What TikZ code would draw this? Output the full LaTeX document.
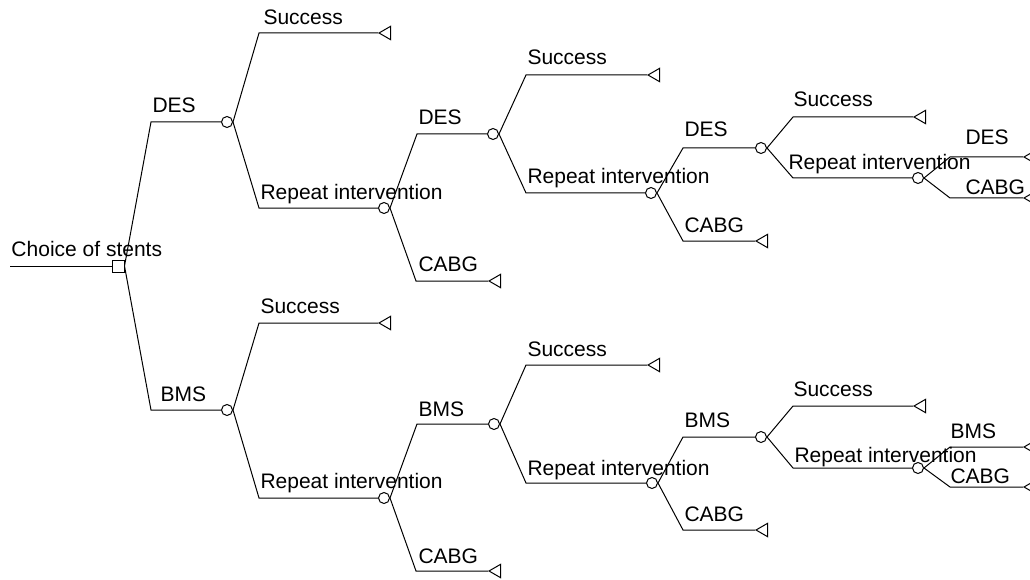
\documentclass[tikz,border=0pt]{standalone}
\usepackage{fontspec}
\setmainfont{Liberation Sans}
\usepackage{tikz}
\usetikzlibrary{shapes.geometric}
\tikzset{
  chance/.style={circle,draw,fill=white,minimum size=11pt,inner sep=0pt},
  choice/.style={rectangle,draw,fill=white,minimum size=12pt,inner sep=0pt},
  payoff/.style={regular polygon,regular polygon sides=3,shape border rotate=90,draw,minimum size=15.5pt,inner sep=0pt,anchor=corner 1},
  lbl/.style={anchor=base west,inner sep=0pt,font=\fontsize{21}{25}\selectfont}
}

\begin{document}
\begin{tikzpicture}[x=1pt,y=-1pt,line width=1pt]
\useasboundingbox (0,0) rectangle (1030,580);
\clip (0,0) rectangle (1030,580);

\coordinate (root) at (10,266);
\node[choice] (stents) at (118,266) {};
\draw (root) -- (stents.west);
\node[lbl] (lstents) at (11,256) {Choice of stents};

\coordinate (b1) at (151,122);
\node[chance] (c1) at (227,122) {};
\draw (stents.east) -- (b1) -- (c1.west);
\node[lbl] (l1) at (152,113) {DES};

\coordinate (b1s) at (259,33);
\node[payoff] (t1s) at (378,33) {};
\draw (c1.east) -- (b1s) -- (t1s.corner 1);
\node[lbl] (l1s) at (263,25) {Success};

\coordinate (b1r) at (259,208);
\node[chance] (c11) at (384,208) {};
\draw (c1.east) -- (b1r) -- (c11.west);
\node[lbl] (l1r) at (260,200) {Repeat intervention};

\coordinate (b11d) at (417,134);
\node[chance] (c111) at (493,134) {};
\draw (c11.east) -- (b11d) -- (c111.west);
\node[lbl] (l11d) at (418,125) {DES};

\coordinate (b11c) at (416,281);
\node[payoff] (t11c) at (488,281) {};
\draw (c11.east) -- (b11c) -- (t11c.corner 1);
\node[lbl] (l11c) at (418,271) {CABG};

\coordinate (b111s) at (526,75);
\node[payoff] (t111s) at (647,75) {};
\draw (c111.east) -- (b111s) -- (t111s.corner 1);
\node[lbl] (l111s) at (527,65) {Success};

\coordinate (b111r) at (526,193);
\node[chance] (c1111) at (651,193) {};
\draw (c111.east) -- (b111r) -- (c1111.west);
\node[lbl] (l111r) at (527,183) {Repeat intervention};

\coordinate (b1111d) at (683,148);
\node[chance] (c11111) at (761,148) {};
\draw (c1111.east) -- (b1111d) -- (c11111.west);
\node[lbl] (l1111d) at (684,137) {DES};

\coordinate (b1111c) at (683,241);
\node[payoff] (t1111c) at (755,241) {};
\draw (c1111.east) -- (b1111c) -- (t1111c.corner 1);
\node[lbl] (l1111c) at (684,232) {CABG};

\coordinate (b11111s) at (793,117);
\node[payoff] (t11111s) at (913,117) {};
\draw (c11111.east) -- (b11111s) -- (t11111s.corner 1);
\node[lbl] (l11111s) at (793,107) {Success};

\coordinate (b11111r) at (793,178);
\node[chance] (c111111) at (918,178) {};
\draw (c11111.east) -- (b11111r) -- (c111111.west);
\node[lbl] (l11111r) at (788,170) {Repeat intervention};

\coordinate (b6d) at (950,157);
\node[payoff] (t6d) at (1023,157) {};
\draw (c111111.east) -- (b6d) -- (t6d.corner 1);
\node[lbl] (l6d) at (965,145) {DES};

\coordinate (b6c) at (950,198);
\node[payoff] (t6c) at (1023,198) {};
\draw (c111111.east) -- (b6c) -- (t6c.corner 1);
\node[lbl] (l6c) at (965,195) {CABG};

\coordinate (b2) at (151,410);
\node[chance] (c2) at (227,410) {};
\draw (stents.east) -- (b2) -- (c2.west);
\node[lbl] (l2) at (160,401) {BMS};

\coordinate (b2s) at (259,323);
\node[payoff] (t2s) at (378,323) {};
\draw (c2.east) -- (b2s) -- (t2s.corner 1);
\node[lbl] (l2s) at (260,313) {Success};

\coordinate (b2r) at (259,498);
\node[chance] (c21) at (384,498) {};
\draw (c2.east) -- (b2r) -- (c21.west);
\node[lbl] (l2r) at (260,488) {Repeat intervention};

\coordinate (b21b) at (417,424);
\node[chance] (c211) at (494,424) {};
\draw (c21.east) -- (b21b) -- (c211.west);
\node[lbl] (l21b) at (418,416) {BMS};

\coordinate (b21c) at (416,571);
\node[payoff] (t21c) at (488,571) {};
\draw (c21.east) -- (b21c) -- (t21c.corner 1);
\node[lbl] (l21c) at (418,563) {CABG};

\coordinate (b211s) at (526,365);
\node[payoff] (t211s) at (647,365) {};
\draw (c211.east) -- (b211s) -- (t211s.corner 1);
\node[lbl] (l211s) at (527,356) {Success};

\coordinate (b211r) at (526,483);
\node[chance] (c2111) at (652,483) {};
\draw (c211.east) -- (b211r) -- (c2111.west);
\node[lbl] (l211r) at (527,475) {Repeat intervention};

\coordinate (b2111b) at (683,437);
\node[chance] (c21111) at (761,437) {};
\draw (c2111.east) -- (b2111b) -- (c21111.west);
\node[lbl] (l2111b) at (684,427) {BMS};

\coordinate (b2111c) at (683,530);
\node[payoff] (t2111c) at (755,530) {};
\draw (c2111.east) -- (b2111c) -- (t2111c.corner 1);
\node[lbl] (l2111c) at (684,521) {CABG};

\coordinate (b21111s) at (793,406);
\node[payoff] (t21111s) at (913,406) {};
\draw (c21111.east) -- (b21111s) -- (t21111s.corner 1);
\node[lbl] (l21111s) at (793,396) {Success};

\coordinate (b21111r) at (793,468);
\node[chance] (c211111) at (918,468) {};
\draw (c21111.east) -- (b21111r) -- (c211111.west);
\node[lbl] (l21111r) at (794,462) {Repeat intervention};

\coordinate (b7b) at (950,447);
\node[payoff] (t7b) at (1023,447) {};
\draw (c211111.east) -- (b7b) -- (t7b.corner 1);
\node[lbl] (l7b) at (950,438) {BMS};

\coordinate (b7c) at (950,487);
\node[payoff] (t7c) at (1023,487) {};
\draw (c211111.east) -- (b7c) -- (t7c.corner 1);
\node[lbl] (l7c) at (950,483) {CABG};
\end{tikzpicture}
\end{document}
